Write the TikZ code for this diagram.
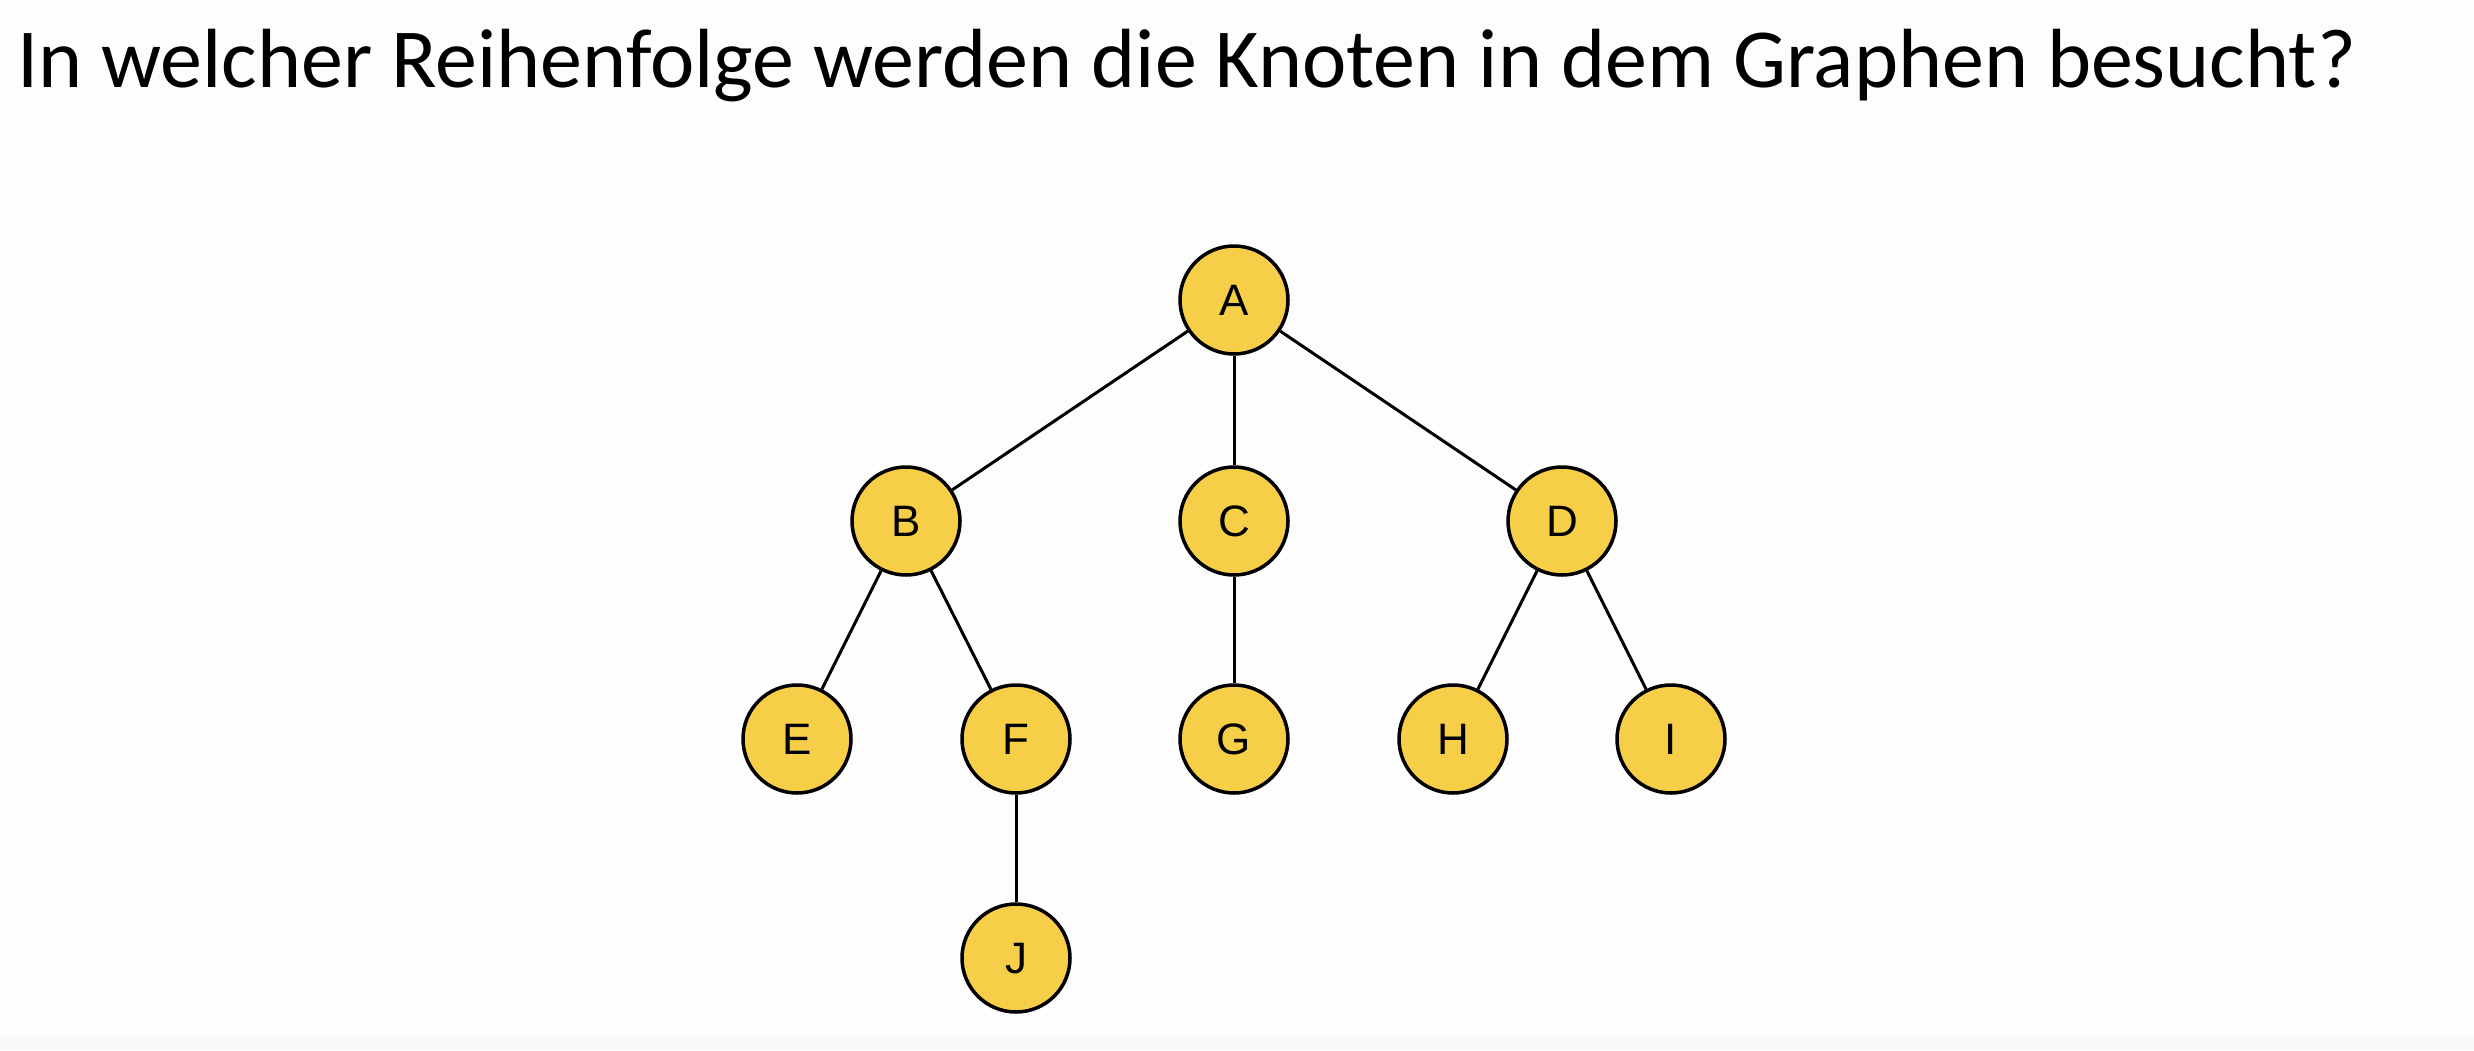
\documentclass[tikz,border=0pt]{standalone}
\usepackage{fontspec}
\setmainfont{Carlito}
\newfontfamily\nodefont{Liberation Sans}
\definecolor{nodefill}{RGB}{246,206,72}
\definecolor{bgcol}{RGB}{253,253,253}
\definecolor{bandcol}{RGB}{248,248,248}
\begin{document}
\begin{tikzpicture}[x=1pt,y=-1pt,
  vertex/.style={circle,draw=black,line width=3.5pt,fill=nodefill,minimum size=108pt,inner sep=0pt,
    text height=31.5pt,text depth=0pt,
    font=\nodefont\fontsize{44}{44}\selectfont},
  edge/.style={line width=3pt,draw=black}]
\fill[bgcol] (0,0) rectangle (2474,1050);
\fill[bandcol] (0,1036) rectangle (2474,1050);
\useasboundingbox (0,0) rectangle (2474,1050);
\node[anchor=base west,inner sep=0pt,font=\fontsize{84}{84}\selectfont] (title) at (17,87) {In welcher Reihenfolge werden die Knoten in dem Graphen besucht?};
\node[vertex] (A) at (1234,300) {A};
\node[vertex] (B) at (906,521) {B};
\node[vertex] (C) at (1234,521) {C};
\node[vertex] (D) at (1562,521) {D};
\node[vertex] (E) at (797,739) {E};
\node[vertex] (F) at (1016,739) {F};
\node[vertex] (G) at (1234,739) {G};
\node[vertex] (H) at (1453,739) {H};
\node[vertex] (I) at (1671,739) {I};
\node[vertex] (J) at (1016,958) {J};
\draw[edge] (A) -- (B);
\draw[edge] (A) -- (C);
\draw[edge] (A) -- (D);
\draw[edge] (B) -- (E);
\draw[edge] (B) -- (F);
\draw[edge] (C) -- (G);
\draw[edge] (D) -- (H);
\draw[edge] (D) -- (I);
\draw[edge] (F) -- (J);
\end{tikzpicture}
\end{document}
